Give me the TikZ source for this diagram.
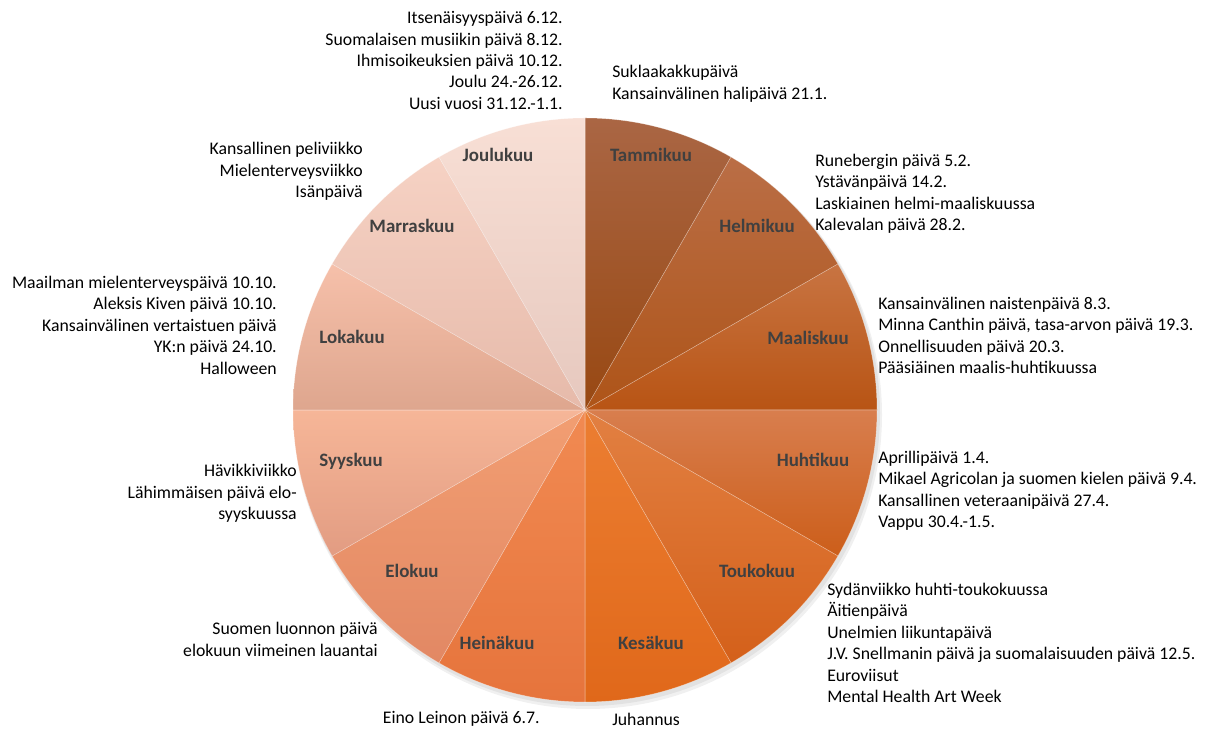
\documentclass[tikz,border=0pt]{standalone}
\usepackage{fontspec}
\setmainfont{Carlito}
\usepackage{tikz}
\usetikzlibrary{calc,positioning}

% slice colours, top and bottom of each gradient
\definecolor{tamT}{RGB}{170,102,68}
\definecolor{tamB}{RGB}{152,72,18}
\definecolor{helT}{RGB}{186,110,70}
\definecolor{helB}{RGB}{174,84,24}
\definecolor{maaT}{RGB}{200,116,66}
\definecolor{maaB}{RGB}{184,84,20}
\definecolor{huhT}{RGB}{216,126,78}
\definecolor{huhB}{RGB}{204,94,26}
\definecolor{touT}{RGB}{226,128,66}
\definecolor{touB}{RGB}{212,96,26}
\definecolor{kesT}{RGB}{236,126,50}
\definecolor{kesB}{RGB}{224,104,26}
\definecolor{heiT}{RGB}{241,138,82}
\definecolor{heiB}{RGB}{230,116,60}
\definecolor{eloT}{RGB}{242,158,114}
\definecolor{eloB}{RGB}{226,136,100}
\definecolor{syyT}{RGB}{246,182,152}
\definecolor{syyB}{RGB}{226,156,130}
\definecolor{lokT}{RGB}{246,192,170}
\definecolor{lokB}{RGB}{222,166,142}
\definecolor{marT}{RGB}{246,210,196}
\definecolor{marB}{RGB}{230,186,170}
\definecolor{jouT}{RGB}{248,223,213}
\definecolor{jouB}{RGB}{230,200,190}
\definecolor{labelgray}{RGB}{64,64,64}

\begin{document}
\begin{tikzpicture}[x=0.75pt,y=0.75pt]
\tikzstyle{month}=[font=\fontsize{14.2}{16}\selectfont\bfseries,text=labelgray,inner sep=0pt]
\tikzstyle{events}=[font=\fontsize{13.3}{16.1}\selectfont,inner sep=0pt]
\tikzstyle{slice}=[draw=white,draw opacity=0.35,line width=0.4pt]

\useasboundingbox (0,0) rectangle (1211,730);
\coordinate (c) at (585,320);

% soft shadow under the pie
\fill [black,opacity=0.06] ($(c)+(3,-5)$) circle (294);
\fill [black,opacity=0.06] ($(c)+(2,-3)$) circle (293);

\foreach \a/\col in {90/tam,60/hel,30/maa,0/huh,-30/tou,-60/kes,-90/hei,-120/elo,-150/syy,-180/lok,-210/mar,-240/jou}
{
  \path [slice,top color=\col T,bottom color=\col B] (c) -- ++(\a:292) arc (\a:\a-30:292) -- cycle;
}

\node (tam_lbl) at (651,575) [month] {Tammikuu};
\node (hel_lbl) at (757,504) [month] {Helmikuu};
\node (maa_lbl) at (808,392) [month] {Maaliskuu};
\node (huh_lbl) at (813,270) [month] {Huhtikuu};
\node (tou_lbl) at (757,159) [month] {Toukokuu};
\node (kes_lbl) at (651,87) [month] {Kesäkuu};
\node (hei_lbl) at (497,87) [month] {Heinäkuu};
\node (elo_lbl) at (412,159) [month] {Elokuu};
\node (syy_lbl) at (351,269) [month] {Syyskuu};
\node (lok_lbl) at (352,393) [month] {Lokakuu};
\node (mar_lbl) at (412,504) [month] {Marraskuu};
\node (jou_lbl) at (498,575) [month] {Joulukuu};

\node (jou_txt) at (563,669.5) [events,anchor=east,align=right] {Itsenäisyyspäivä 6.12.\\Suomalaisen musiikin päivä 8.12.\\Ihmisoikeuksien päivä 10.12.\\Joulu 24.-26.12.\\Uusi vuosi 31.12.-1.1.};
\node (tam_txt) at (612,646) [events,anchor=west,align=left] {Suklaakakkupäivä\\Kansainvälinen halipäivä 21.1.};
\node (hel_txt) at (815,536) [events,anchor=west,align=left] {Runebergin päivä 5.2.\\Ystävänpäivä 14.2.\\Laskiainen helmi-maaliskuussa\\Kalevalan päivä 28.2.};
\node (maa_txt) at (878,394.5) [events,anchor=west,align=left] {Kansainvälinen naistenpäivä 8.3.\\Minna Canthin päivä, tasa-arvon päivä 19.3.\\Onnellisuuden päivä 20.3.\\Pääsiäinen maalis-huhtikuussa};
\node (huh_txt) at (878,239) [events,anchor=west,align=left] {Aprillipäivä 1.4.\\Mikael Agricolan ja suomen kielen päivä 9.4.\\Kansallinen veteraanipäivä 27.4.\\Vappu 30.4.-1.5.};
\node (tou_txt) at (827,87) [events,anchor=west,align=left] {Sydänviikko huhti-toukokuussa\\Äitienpäivä\\Unelmien liikuntapäivä\\J.V. Snellmanin päivä ja suomalaisuuden päivä 12.5.\\Euroviisut\\Mental Health Art Week};
\node (kes_txt) at (612,11) [events,anchor=west] {Juhannus};
\node (hei_txt) at (540,11) [events,anchor=east] {Eino Leinon päivä 6.7.};
\node (elo_txt) at (378,90.5) [events,anchor=east,align=right] {Suomen luonnon päivä\\elokuun viimeinen lauantai};
\node (syy_txt) at (297,236.5) [events,anchor=east,align=right] {Hävikkiviikko\\Lähimmäisen päivä elo-\\syyskuussa};
\node (lok_txt) at (277,405) [events,anchor=east,align=right] {Maailman mielenterveyspäivä 10.10.\\Aleksis Kiven päivä 10.10.\\Kansainvälinen vertaistuen päivä\\YK:n päivä 24.10.\\Halloween};
\node (mar_txt) at (363,558.5) [events,anchor=east,align=right] {Kansallinen peliviikko\\Mielenterveysviikko\\Isänpäivä};

\end{tikzpicture}
\end{document}
